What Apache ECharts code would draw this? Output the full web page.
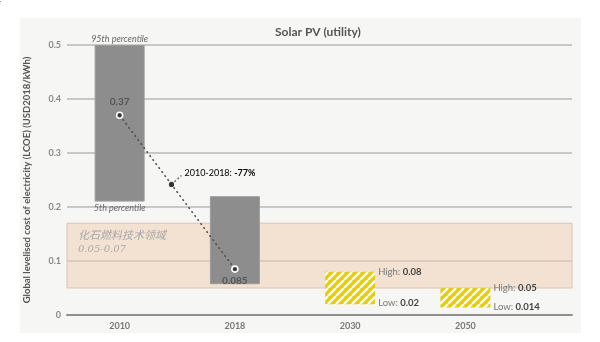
<!DOCTYPE html>
<html><head><meta charset="utf-8">
<script src="https://cdn.jsdelivr.net/npm/echarts@6/dist/echarts.min.js"></script>
<style>html,body{margin:0;padding:0;background:#fff}#c{width:600px;height:342px}</style>
</head><body><div id="c"></div>
<script>
const categories = ['2010', '2018', '2030', '2050'];
const lowValues = [0.21, 0.057, 0.02, 0.014];
const highValues = [0.5, 0.22, 0.08, 0.05];
const weightedAverage = [0.37, 0.085, null, null];
const fossilRange = [0.05, 0.17];
const yMin = 0, yMax = 0.5, yStep = 0.1;
const changeText = ['2010-2018: ', '-77%'];
const changeAnchorFraction = 0.45;
const percentileLabels = ['95th percentile', '5th percentile'];
const fossilNoteCn = ['化石燃料技术领域', '0.05-0.07'];

const FONT = 'Lato, "Open Sans", sans-serif';

function stripes() {
  const s = 8;
  const c = document.createElement('canvas');
  c.width = s; c.height = s;
  const g = c.getContext('2d');
  g.fillStyle = '#e4cc10';
  g.fillRect(0, 0, s, s);
  g.strokeStyle = '#fffbe6';
  g.lineWidth = 2.4;
  for (let k = -s; k <= s; k += s) {
    g.beginPath(); g.moveTo(k, s); g.lineTo(k + s, 0); g.stroke();
  }
  return c;
}
const pattern = { image: stripes(), repeat: 'repeat' };
const isProjection = i => i >= 2;

const chart = echarts.init(document.getElementById('c'), null, { renderer: 'canvas' });

const richHL = {
  n: { fontSize: 9.5, color: '#777', fontFamily: FONT },
  b: { fontSize: 9.5, color: '#444', fontWeight: 'bold', fontFamily: FONT }
};

const baseData = lowValues.map((v, i) => {
  const d = { value: v };
  if (i === 0) {
    d.label = { show: true, position: 'insideTop', distance: 2, formatter: percentileLabels[1],
      fontStyle: 'italic', fontSize: 9, color: '#666', fontFamily: FONT };
  } else if (isProjection(i)) {
    d.label = { show: true, position: ['100%', 0], offset: [3, -1], align: 'left', verticalAlign: 'middle',
      formatter: '{n|Low: }{b|' + v + '}', rich: richHL };
  }
  return d;
});

const rangeData = highValues.map((h, i) => {
  const d = { value: +(h - lowValues[i]).toFixed(4) };
  if (i === 0) {
    d.label = { show: true, position: 'top', distance: 1, formatter: percentileLabels[0],
      fontStyle: 'italic', fontSize: 9, color: '#666', fontFamily: FONT };
  } else if (isProjection(i)) {
    d.itemStyle = { color: pattern, borderWidth: 0 };
    d.label = { show: true, position: ['100%', 0], offset: [3, 0], align: 'left', verticalAlign: 'middle',
      formatter: '{n|High: }{b|' + h + '}', rich: richHL };
  }
  return d;
});

const bgRect = { type: 'rect', z: -10, shape: { x: 20, y: 18, width: 561, height: 315 }, style: { fill: '#f6f6f5' } };

const option = {
  animation: false,
  backgroundColor: '#ffffff',
  title: {
    text: 'Solar PV (utility)', left: 270, top: 21,
    textStyle: { fontSize: 12, fontWeight: 'bold', color: '#555', fontFamily: FONT }
  },
  graphic: [bgRect],
  grid: [
    { left: 67, right: 28, top: 45, bottom: 27 },
    { left: 62, right: 77, top: 45, bottom: 27 }
  ],
  xAxis: [
    { gridIndex: 0, type: 'value', min: 0, max: 1, axisLabel: { show: false }, axisTick: { show: false },
      splitLine: { show: false }, axisLine: { show: true, lineStyle: { color: '#8f8f8f', width: 2 } } },
    { gridIndex: 1, type: 'category', data: categories, axisLine: { show: false }, axisTick: { show: false },
      axisLabel: { margin: 7, fontSize: 9, fontWeight: 'bold', color: '#777', fontFamily: FONT } }
  ],
  yAxis: [
    { gridIndex: 0, type: 'value', min: yMin, max: yMax, interval: yStep,
      name: 'Global levelised cost of electricity (LCOE) (USD2018/kWh)',
      nameLocation: 'middle', nameRotate: 90, nameGap: 35,
      nameTextStyle: { fontSize: 9.5, fontWeight: 'bold', color: '#555', fontFamily: FONT },
      axisLine: { show: false }, axisTick: { show: false },
      axisLabel: { margin: 6, fontSize: 9, fontWeight: 'bold', color: '#888', fontFamily: FONT,
        formatter: v => v === 0 ? '0' : v.toFixed(1) },
      splitLine: { lineStyle: { color: '#b8b8b8', width: 1.5 } } },
    { gridIndex: 1, type: 'value', min: yMin, max: yMax, interval: yStep, show: false, splitLine: { show: false } }
  ],
  series: [
    { type: 'line', xAxisIndex: 0, yAxisIndex: 0, data: [], silent: true,
      markArea: { silent: true, data: [
        [{ yAxis: fossilRange[0], itemStyle: { color: 'rgba(240,205,176,0.5)', borderColor: '#dcc3ae', borderWidth: 1 },
           label: { show: true, position: 'insideTopRight', distance: [5, 4], align: 'right',
             formatter: 'LCOE range of\nfossil fuel technologies\n(Low: ' + fossilRange[0] + '\u2013High: ' + fossilRange[1] + ')',
             fontStyle: 'italic', fontSize: 9, lineHeight: 11.5, color: '#666', fontFamily: '"Open Sans", sans-serif' } },
         { yAxis: fossilRange[1] }]
      ] } },
    { type: 'bar', name: 'base', xAxisIndex: 1, yAxisIndex: 1, stack: 'r', barWidth: 50,
      itemStyle: { color: 'rgba(0,0,0,0)' }, data: baseData, z: 3 },
    { type: 'bar', name: 'range', xAxisIndex: 1, yAxisIndex: 1, stack: 'r', barWidth: 50,
      itemStyle: { color: '#8d8d8d', borderColor: '#9c9c9c', borderWidth: 1 }, data: rangeData, z: 3 },
    { type: 'line', name: 'avg', xAxisIndex: 1, yAxisIndex: 1, z: 6,
      data: weightedAverage.map((v, i) => v == null ? null : { value: v, label: { position: i === 0 ? 'top' : 'bottom', distance: i === 0 ? 5 : 3 } }),
      lineStyle: { type: [2, 3], color: '#4a4a4a', width: 1.5 },
      symbol: 'circle', symbolSize: 6,
      itemStyle: { color: '#3a3a3a', borderColor: '#ffffff', borderWidth: 1.6 },
      label: { show: true, formatter: p => String(p.value), fontSize: 10, fontWeight: 'bold', color: '#555', fontFamily: FONT } }
  ]
};
chart.setOption(option);

const p0 = chart.convertToPixel({ gridIndex: 1 }, [0, weightedAverage[0]]);
const p1 = chart.convertToPixel({ gridIndex: 1 }, [1, weightedAverage[1]]);
const ax = p0[0] + (p1[0] - p0[0]) * changeAnchorFraction;
const ay = p0[1] + (p1[1] - p0[1]) * changeAnchorFraction;
const bandTL = chart.convertToPixel({ gridIndex: 0 }, [0, fossilRange[1]]);
chart.setOption({
  graphic: [
    bgRect,
    { type: 'line', z: 10, shape: { x1: ax, y1: ay, x2: ax + 10, y2: ay - 9 },
      style: { stroke: '#555', lineWidth: 1.2, lineDash: [2, 2] } },
    { type: 'circle', z: 11, shape: { cx: ax, cy: ay, r: 2.6 }, style: { fill: '#333' } },
    { type: 'text', z: 11, x: ax + 13, y: ay - 11,
      style: { text: '{n|' + changeText[0] + '}{b|' + changeText[1] + '}', verticalAlign: 'middle',
        rich: { n: { fontSize: 9, color: '#777', fontFamily: FONT }, b: { fontSize: 9, color: '#444', fontWeight: 'bold', fontFamily: FONT } } } },
    { type: 'text', z: 4, x: bandTL[0] + 11, y: bandTL[1] + 12,
      style: { text: fossilNoteCn[0], verticalAlign: 'middle', fontFamily: '"Noto Sans CJK SC"', fontStyle: 'italic', fontSize: 11, fill: '#a8a8a8' } },
    { type: 'text', z: 4, x: bandTL[0] + 11, y: bandTL[1] + 26,
      style: { text: fossilNoteCn[1], verticalAlign: 'middle', fontFamily: '"DejaVu Serif", "Liberation Serif", serif', fontStyle: 'italic', fontSize: 10, fill: '#aaaaaa' } }
  ]
});
</script></body></html>
